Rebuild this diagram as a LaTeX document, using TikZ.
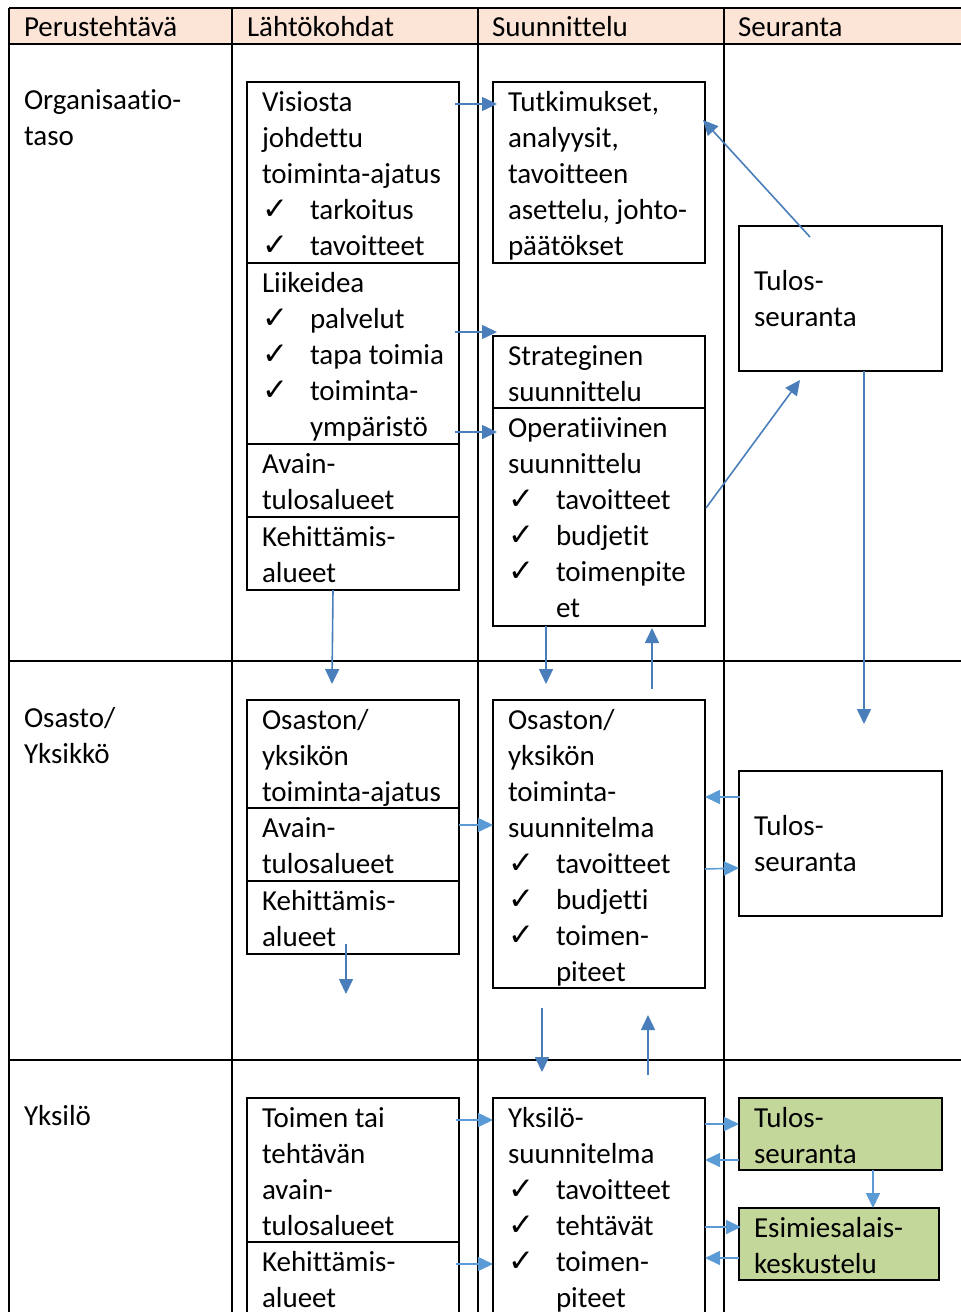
\documentclass[tikz,border=0pt]{standalone}
\usepackage{fontspec}
\setmainfont{Carlito}[Ligatures=NoCommon]
\newfontfamily\symfont{DejaVu Sans}
\usetikzlibrary{calc,positioning,arrows.meta}

\definecolor{headfill}{HTML}{FCE4D6}
\definecolor{greenfill}{HTML}{C4D79B}
\definecolor{arrblue}{HTML}{4A7EBB}
\definecolor{lightblue}{HTML}{5B9BD5}

\newcommand{\chk}{\makebox[48pt][l]{\symfont\fontsize{31}{36}\selectfont ✓}}

\begin{document}
\begin{tikzpicture}[x=1pt,y=-1pt,
  font=\fontsize{29}{36}\selectfont,
  box/.style={draw,line width=2pt,anchor=north west,inner sep=0pt,outer sep=0pt},
  greenbox/.style={box,fill=greenfill},
  txt/.style={anchor=north west,inner xsep=15pt,inner ysep=3.8pt,outer sep=0pt,align=left},
  arr/.style={arrblue,line width=1.6pt,-{Triangle[length=15pt,width=14pt]}},
  larr/.style={arr,lightblue}]

\useasboundingbox (0,0) rectangle (961,1312);
\clip (0,0) rectangle (961,1312);

% table
\fill[headfill] (9,8) rectangle (970,44);
\draw[line width=2pt] (9,8) -- (970,8)
	(9,44) -- (970,44)
	(9,661) -- (970,661)
	(9,1060) -- (970,1060)
	(9,8) -- (9,1320)
	(232,8) -- (232,1320)
	(478,8) -- (478,1320)
	(724,8) -- (724,1320);

\node[txt] (h1) at (9,7) {\strut Perustehtävä};
\node[txt] (h2) at (232,7) {\strut Lähtökohdat};
\node[txt] (h3) at (477,7) {\strut Suunnittelu};
\node[txt] (h4) at (723,7) {\strut Seuranta};

\node[txt] (orgl) at (9,80) {\strut Organisaatio-\\taso};
\node[txt] (osl) at (9,698) {\strut Osasto/\\Yksikkö};
\node[txt] (yksl) at (9,1096) {\strut Yksilö};

% organisaatiotaso
\node[box,minimum width=212pt,minimum height=181pt] (visio) at (247,82) {};
\node[box,minimum width=212pt,minimum height=181pt] (liike) at (247,263) {};
\node[box,minimum width=212pt,minimum height=73pt] (avain1) at (247,444) {};
\node[box,minimum width=212pt,minimum height=73pt] (kehit1) at (247,517) {};
\node[box,minimum width=212pt,minimum height=181pt] (tutk) at (493,82) {};
\node[box,minimum width=212pt,minimum height=72pt] (strat) at (493,336) {};
\node[box,minimum width=212pt,minimum height=218pt] (oper) at (493,408) {};
\node[box,minimum width=203pt,minimum height=145pt] (tulos1) at (739,226) {};

\node[txt] (visiot) at (visio.north west) {\strut Visiosta\\johdettu\\toiminta-ajatus\\\chk tarkoitus\\\chk tavoitteet};
\node[txt] (liiket) at (liike.north west) {\strut Liikeidea\\\chk palvelut\\\chk tapa toimia\\\chk toiminta-\\\hspace*{48pt}ympäristö};
\node[txt] (avain1t) at (avain1.north west) {\strut Avain-\\tulosalueet};
\node[txt] (kehit1t) at (kehit1.north west) {\strut Kehittämis-\\alueet};
\node[txt] (tutkt) at (tutk.north west) {\strut Tutkimukset,\\analyysit,\\tavoitteen\\asettelu, johto-\\päätökset};
\node[txt] (stratt) at (strat.north west) {\strut Strateginen\\suunnittelu};
\node[txt] (opert) at (oper.north west) {\strut Operatiivinen\\suunnittelu\\\chk tavoitteet\\\chk budjetit\\\chk toimenpite\\\hspace*{48pt}et};
\node[txt] (tulos1t) at ($(tulos1.north west)+(0,35)$) {\strut Tulos-\\seuranta};

% osasto / yksikko
\node[box,minimum width=212pt,minimum height=108pt] (osaston) at (247,700) {};
\node[box,minimum width=212pt,minimum height=73pt] (avain2) at (247,808) {};
\node[box,minimum width=212pt,minimum height=73pt] (kehit2) at (247,881) {};
\node[box,minimum width=212pt,minimum height=288pt] (osuunn) at (493,700) {};
\node[box,minimum width=203pt,minimum height=145pt] (tulos2) at (739,771) {};

\node[txt] (osastont) at (osaston.north west) {\strut Osaston/\\yksikön\\toiminta-ajatus};
\node[txt] (avain2t) at (avain2.north west) {\strut Avain-\\tulosalueet};
\node[txt] (kehit2t) at (kehit2.north west) {\strut Kehittämis-\\alueet};
\node[txt] (osuunnt) at (osuunn.north west) {\strut Osaston/\\yksikön\\toiminta-\\suunnitelma\\\chk tavoitteet\\\chk budjetti\\\chk toimen-\\\hspace*{48pt}piteet};
\node[txt] (tulos2t) at ($(tulos2.north west)+(0,35)$) {\strut Tulos-\\seuranta};

% yksilo
\node[box,minimum width=212pt,minimum height=144pt] (toimen) at (247,1098) {};
\node[box,minimum width=212pt,minimum height=100pt] (kehit3) at (247,1242) {};
\node[box,minimum width=212pt,minimum height=240pt] (yksilo) at (493,1098) {};
\node[greenbox,minimum width=203pt,minimum height=72pt] (tulos3) at (739,1098) {};
\node[greenbox,minimum width=200pt,minimum height=72pt] (esimies) at (739,1208) {};

\node[txt] (toiment) at (toimen.north west) {\strut Toimen tai\\tehtävän\\avain-\\tulosalueet};
\node[txt] (kehit3t) at (kehit3.north west) {\strut Kehittämis-\\alueet};
\node[txt] (yksilot) at (yksilo.north west) {\strut Yksilö-\\suunnitelma\\\chk tavoitteet\\\chk tehtävät\\\chk toimen-\\\hspace*{48pt}piteet};
\node[txt] (tulos3t) at (tulos3.north west) {\strut Tulos-\\seuranta};
\node[txt] (esimiest) at (esimies.north west) {\strut Esimiesalais-\\keskustelu};

% arrows
\draw[arr] ($(visio.north east)+(-4,22)$) -- ($(tutk.north west)+(4,22)$);
\draw[arr] ($(liike.north east)+(-4,69)$) -- ($(strat.north west)+(4,-4)$);
\draw[arr] ($(liike.south east)+(-4,-12)$) -- ($(oper.north west)+(4,24)$);
\draw[arr] ($(tulos1.north west)+(71,11)$) -- ($(tutk.north east)+(-2,38)$);
\draw[arr] ($(oper.north east)+(1,100)$) -- ($(tulos1.south west)+(61,9)$);
\draw[arr] ($(tulos1.south)+(23.5,0)$) -- ($(tulos2.north)+(23.5,-47)$);
\draw[arr] ($(kehit1.south)+(-20,0)$) -- ($(osaston.north)+(-21,-16)$);
\draw[arr] ($(oper.south)+(-53,0)$) -- ($(osuunn.north)+(-53,-16)$);
\draw[arr] ($(osuunn.north)+(53,-11)$) -- ($(oper.south)+(53,2)$);

\draw[larr] ($(avain2.north east)+(0,17)$) -- ($(osuunn.north west)+(0,125)$);
\draw[larr] ($(tulos2.north west)+(1,26)$) -- ($(osuunn.north east)+(0,97)$);
\draw[larr] ($(osuunn.north east)+(0,169)$) -- ($(tulos2.north west)+(0,97)$);
\coordinate (kehit2end) at ($(kehit2.south)+(-7,40)$);
\draw[arr] ($(kehit2.south)+(-7,-10)$) -- (kehit2end);
\draw[arr] ($(osuunn.south)+(-57,20)$) -- ($(yksilo.north)+(-57,-26)$);
\draw[arr] ($(yksilo.north)+(49,-23)$) -- ($(osuunn.south)+(49,27)$);

\draw[larr] ($(toimen.north east)+(-3,22)$) -- ($(yksilo.north west)+(0,22)$);
\draw[larr] ($(kehit3.north east)+(-3,22)$) -- ($(yksilo.north west)+(0,166)$);
\draw[larr] ($(yksilo.north east)+(0,26)$) -- ($(tulos3.north west)+(0,26)$);
\draw[larr] ($(tulos3.north west)+(0,62)$) -- ($(yksilo.north east)+(0,62)$);
\draw[larr] ($(yksilo.north east)+(0,129)$) -- ($(esimies.north west)+(2,19)$);
\draw[larr] ($(esimies.north west)+(0,50)$) -- ($(yksilo.north east)+(0,160)$);
\draw[larr] ($(tulos3.south)+(32.5,0)$) -- ($(esimies.north)+(34,0)$);

\end{tikzpicture}
\end{document}
